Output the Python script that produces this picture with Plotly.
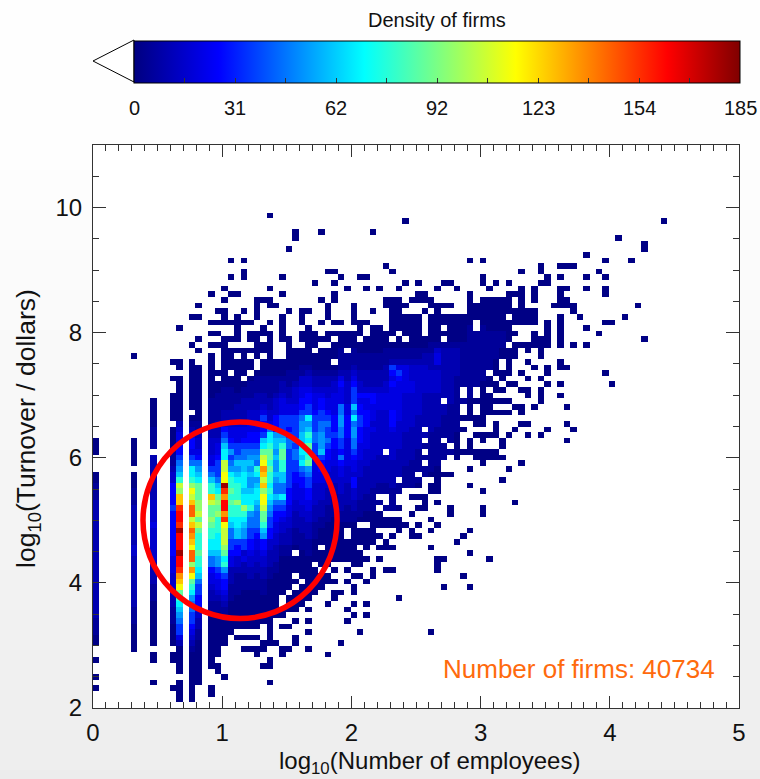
import numpy as np
import plotly.graph_objects as go

W, H = 760, 779
PL, PR, PT, PB = 93, 739, 145, 708

# colour bar and axis labels
cbar_ticks = [0, 31, 62, 92, 123, 154, 185]
x_ticks = [0, 1, 2, 3, 4, 5]
y_ticks = [2, 4, 6, 8, 10]
firms_label = "Number of firms: 40734"

# density level codes used in the arrays below
level_codes = "123456789ABCDEFGHIJKLM"
level_values = [1, 5, 10, 15, 20, 26, 35, 45, 52, 60, 68, 78, 88, 97, 106, 115, 127, 136, 145, 155, 163, 180]

# occupied cells per grid row (top row of the plot = 0): column numbers or column ranges
rows_12_29 = {
    12: "27", 13: "48 88", 15: "31 35 43", 16: "31 81", 17: "85", 18: "30 85", 19: "76",
    20: "21 23 58 60 79 83", 21: "45 69 72-74", 22: "23 36 37 46 66 69 78",
    23: "21 23 29 38 41 42 60 70 72 76 79", 24: "34 37 48 50 54 55 60 62 64 69 70",
    25: "20 27 39 42 44 47 53 56 61 66 68 72 73 76 79",
    26: "18 21 22 29 37 50 51 58 64-66 68 72 79",
    27: "20 25-27 35 37 45-47 49-52 58 60-64 66 68 72 73",
    28: "16 25 27 28 36 40 45-48 52-55 58-64 66 71-74 84",
    29: "19 20 23 25 30 32 33 36 40 43 46 47 51 53 58-68 74",
}
rows_30_48 = {
    30: "15 16 20 22 25 29 32 36 40 46-50 52-63 65-68 72 75 82",
    31: "18-24 27 29 32 35 37 38 40-42 46-50 52-58 60-64 65-68 70 72 79 80",
    32: "13 22 26 29 33 41 43 44 46-50 52 53 55-58 60-64 70 72 76",
    33: "18 19 22 24-27 29 32-34 36-41 43-46 48-50 52-65 68 70 72 78",
    34: "16 20-22 24 25 27 29 30 32-36 38-40 42-45 47 49-53 55-64 68-70 72 85",
    35: "15 18-20 25-27 30 33 34 37-63 65-70 72 74 76",
    36: "16 20-27 30-33 35-38 40-65 67 69",
    37: "18 20 21 23 25 27 30-65 69",
    38: "12 13 15 18 20-24 26-36 38-62 64 67 72",
    39: "13 15 16 18 20-24 26-62 64 68 70 72 73",
    40: "15 16 18-20 22 23 25-60 62-64 66 70 79",
    41: "12 13 15 16 18 20-22 24-61 63 67 69",
    42: "13 15 16 18-62 64 65 70 72 80",
    43: "13 15 16 18-56 58 60 62 63 66 67 69",
    44: "12 13 15 16 18-56 58 60 61 67 69 72",
    45: "12 13 15 16 18-53 55-64 69",
    46: "12 13 15 16 18-56 58 60 61 65 66 68 73",
    47: "12 13 16 18-56 58 60-64 66",
    48: "12 13 15 16 18-60",
}
rows_49_70 = {
    49: "18-56 59 60 62 66 67 73", 50: "18-50 52-57 62 65 70 74", 51: "18-56 59-62 64 67 69",
    52: "18-50 52 53 55 56 58 60 63 73", 53: "18-54 56 58 63", 54: "18-44 46-50 52-62",
    55: "18-54 56 59-63", 56: "18-50 52 53 60 66", 57: "18-53 58 64", 58: "18-49 51-55",
    59: "18-46 48-50 53 63", 60: "18-50 52 53 58", 61: "18-47 52 53 60", 62: "18-43 46 49-51",
    63: "18-44 46 51 53 65", 64: "18-43 45-47 50 51 55 60", 65: "18-44 49 55 60", 66: "18-47 52",
    67: "18-40 43-48 50 53", 68: "18-38 40-43 47 49 52 58", 69: "18-38 40-44 46 49 50 57",
    70: "18-43 45 56",
}
rows_71_98 = {
    71: "18-34 36-40 42 44-46 52", 72: "18-30 32-41 58", 73: "18-42 44 53 54 61",
    74: "18-33 35 36 40 41 53", 75: "18-34 37 39 43 45 46 53", 76: "18-30 32-36 40 41 43 57",
    77: "18-31 33-37 39 42", 78: "18-30 32-35 40 54 58", 79: "18-29 31-34 37 38 40",
    80: "18-28 30-33 37 47", 81: "18-28 30-32 36 40 42", 82: "18-31 33 39", 83: "18-29 40 42",
    84: "18-27 31 33 39", 85: "18-25 27 29 30", 86: "18-21 27 33 41 52", 87: "18-20 22-25 27 31",
    88: "18-20 26-28 31 38", 89: "6 13 15 16 18 19 23-26 29 30 33", 90: "9 12 13 15 16 18 19 25 29 36",
    91: "0 9 12 13 15 16 18 27", 92: "13 15 16 18 19 26 27", 93: "13 15 16 19", 94: "0 15 16 20",
    95: "9 13 15 16 27", 96: "0 12 13 15 18", 97: "13 15 18", 98: "13 15",
}
# occupied rows of the narrow columns at the left: column -> row ranges
narrow_columns = {
    0: "52-54 58-88", 6: "37 52-56 58-89", 9: "45-53 55-88", 12: "50-88",
    13: "49-88", 15: "49-88", 16: "49-88",
}

# levels down each column: column -> (first row, codes); cells not listed are level 1
levels_left = {
    0: (58, "1122233333333333333333333322211"),
    6: (52, "11111" + "1" + "1" + "1122233333334433333333322211"),
    9: (45, "111112222333" + "3333334444544444433332221"),
    12: (50, "1111222" + "344" + "666676666666" + "6555444333222111"),
    13: (49, "3455667" + "89AC" + "FEHH" + "KLLKMLLL" + "MLLK" + "IHGDCBA98775" + "3"),
    15: (49, "2356657" + "8BBCE" + "GFHJJF" + "HJIHGJJEIG" + "DCB98877" + "65432"),
    16: (49, "22344568" + "9ABDDDEEFDFDCCCDCCBA8" + "77665433221"),
}
levels_upper = {
    18: (38, "11111112222"), 19: (38, "11111122222"), 20: (38, "11111222233"), 21: (38, "11111222233"),
    22: (38, "11111122333"), 23: (38, "11111223333"), 24: (38, "11112223344"), 25: (38, "11122233344"),
    26: (38, "11122233457"), 27: (38, "11122223344"), 28: (38, "11122234446"), 29: (38, "11123345557"),
    30: (38, "11222334557"), 31: (38, "11223444557"), 32: (38, "12244556678"), 33: (38, "1234456677B"),
    34: (38, "11233455567"), 35: (38, "11233456677"), 36: (38, "11233445567"), 37: (38, "11234455556"),
}
levels_middle = {
    18: (49, "2334445578ACCHFDDEDCCBBA88655433" + "22"),
    19: (49, "3334556777" + "8ABDEDECCCBBBA99765543" + "22"),
    20: (49, "4678ABBFFGGMKILLIKGFFFEDBC976654322"),
    21: (49, "455679" + "789BCCDCDCCBA8877655333222"),
    22: (49, "4555778A9ABCCCECCBBAA76644" + "32222"),
    23: (49, "4556788AABBBABBECBA9977453" + "3222"),
    24: (49, "5566789A9A99ABBC988776654433" + "22"),
    25: (49, "5566789" + "8CB9ABBA988876554433222"),
    26: (49, "667AB" + "DFGIHFHEGGFDDCA9665443" + "3222"),
    27: (49, "58BBCDDCDCCBCBA98776644333" + "22"),
    28: (49, "669AA9A99A988A876655443332" + "2"),
    29: (49, "779ACDDCCAA88B876544" + "3322"),
    30: (49, "76788777777766655443332" + "2"),
    31: (49, "777878877665554433322" + "2"),
    32: (49, "99AABBAB87665554433322" + "2"),
    33: (49, "9ACBDBCD987766554433322" + "2"),
    34: (49, "778877655554444333" + "222"),
    35: (49, "88999A766554443332" + "2"),
    36: (49, "877876655444333222"),
    37: (49, "667665554443322" + "22"),
}
levels_right = {
    38: (34, "1122223" + "56555" + "8899" + "8877" + "6865" + "5444" + "33322"),
    39: (34, "111222334444556666555554443333222"),
    40: (34, "112223456777A8B899887655466443322"),
    41: (34, "111222334465667766655544433332221"),
    42: (34, "111222333465566655554443333322211"),
    43: (34, "111222333466555454444433333222211"),
    44: (34, "111222333455544444444333332222211"),
    45: (34, "112223334455544444443333332222211"),
    46: (34, "112237656555566654444433333222211"),
    47: (34, "112235765555555444443333332222111"),
    48: (34, "112235555544444443333332222211111"),
    49: (34, "112234445544444433333322222211111"),
    50: (34, "112234444444443333332222221111111"),
    51: (34, "112334444433333333322222211111111"),
    52: (34, "122333444433333332222222111111111"),
    53: (34, "124553444433333322222221111111111"),
    54: (34, "123333333333332222222211111111111"),
    55: (34, "123333333333222222222111111111111"),
    56: (34, "123333322222222221111111111111111"),
    57: (34, "122222222222211111111111111111111"),
    58: (30, "1122222222222221111"),
    59: (30, "1122222222222211111"),
    60: (30, "1122222222221111"),
    61: (30, "11122222222111"),
    62: (30, "1112222211111"),
    63: (30, "11122211111"),
}


def spec_items(spec):
    out = []
    for tok in spec.split():
        if "-" in tok:
            a, b = tok.split("-")
            out.extend(range(int(a), int(b) + 1))
        else:
            out.append(int(tok))
    return out


code_value = dict(zip(level_codes, level_values))
z = np.full((100, 100), np.nan)
for block in (rows_12_29, rows_30_48, rows_49_70, rows_71_98):
    for row, spec in block.items():
        for col in spec_items(spec):
            z[row, col] = 1
for col, spec in narrow_columns.items():
    for row in spec_items(spec):
        z[row, col] = 1
for block in (levels_left, levels_upper, levels_middle, levels_right):
    for col, (start, codes) in block.items():
        for k, ch in enumerate(codes):
            row = start + k
            if row < 100 and not np.isnan(z[row, col]):
                z[row, col] = code_value[ch]

colorscale = [
    [0.0, "#000080"], [0.14, "#0000ff"], [0.38, "#00ffff"], [0.63, "#ffff00"],
    [0.88, "#ff0000"], [1.0, "#800000"],
]

CB_L, CB_R, CB_T, CB_B = 134, 740, 40, 82


def paper_x(px):
    return (px - PL) / (PR - PL)


def paper_y(py):
    return (PB - py) / (PB - PT)


fig = go.Figure()
tick_positions = [i * 185 / 12 for i in range(13)]
fig.add_trace(go.Heatmap(
    z=z, x0=0.018, dx=0.05, y0=10.955, dy=-0.09,
    colorscale=colorscale, zmin=0, zmax=185, hoverongaps=False,
    colorbar=dict(
        orientation="h",
        x=paper_x(CB_L), xanchor="left", y=paper_y(CB_B + 6.5), yanchor="bottom",
        lenmode="pixels", len=CB_R - CB_L, thicknessmode="pixels", thickness=CB_B - CB_T,
        xpad=0, ypad=0, outlinewidth=1, outlinecolor="#000000",
        tickmode="array", tickvals=tick_positions, showticklabels=False,
        ticks="inside", ticklen=5, tickcolor="#333333", tickwidth=1,
    ),
))

shapes = []
# page background: white at the top fading to light grey
band_tops = list(range(130, H, 40))
for k, top in enumerate(band_tops):
    g = 254 - int(18 * k / (len(band_tops) - 1))
    shapes.append(dict(type="rect", xref="paper", yref="paper", layer="below", line_width=0,
                       x0=paper_x(0), x1=paper_x(W), y0=paper_y(top + 41), y1=paper_y(top),
                       fillcolor=f"rgb({g},{g},{g})"))
shapes.append(dict(type="rect", xref="paper", yref="paper", layer="below", line_width=0,
                   x0=0, x1=1, y0=0, y1=1, fillcolor="#ffffff"))
# red ring
shapes.append(dict(type="circle", xref="x", yref="y", x0=0.387, x1=1.889, y0=3.43, y1=6.57,
                   line=dict(color="#ff0000", width=5.5)))
# lower-end triangle of the colour bar
shapes.append(dict(type="path", xref="paper", yref="paper",
                   path=f"M {paper_x(CB_L)} {paper_y(CB_T)} L {paper_x(CB_L - 41)} {paper_y(61)} L {paper_x(CB_L)} {paper_y(CB_B)} Z",
                   fillcolor="#ffffff", line=dict(color="#000000", width=1)))
# longer colour-bar ticks at the labelled values
for i in range(1, 6):
    cx = CB_L + (CB_R - CB_L) * i / 6
    shapes.append(dict(type="line", xref="paper", yref="paper", x0=paper_x(cx), x1=paper_x(cx),
                       y0=paper_y(CB_B), y1=paper_y(CB_B - 10), line=dict(color="#333333", width=1)))

narrow = "Liberation Sans Narrow, Liberation Sans"
tick_font = dict(family="Liberation Sans", size=24, color="#111111")
cb_font = dict(family=narrow, size=20, color="#111111")
annotations = [
    dict(text="Density of firms", xref="paper", yref="paper", x=paper_x(437), y=paper_y(20),
         xanchor="center", yanchor="middle", showarrow=False,
         font=dict(family=narrow, size=20, color="#111111")),
    dict(text=firms_label, xref="x", yref="y", x=4.83, y=2.62, xanchor="right", yanchor="middle",
         showarrow=False, font=dict(family="Liberation Sans", size=26, color="#ff6a0d")),
    dict(text="log<sub>10</sub>(Number of employees)", xref="paper", yref="paper",
         x=paper_x(429), y=paper_y(762), xanchor="center", yanchor="middle", showarrow=False,
         font=dict(family="Liberation Sans", size=24, color="#111111")),
    dict(text="log<sub>10</sub>(Turnover / dollars)", xref="paper", yref="paper", textangle=-90,
         x=paper_x(28), y=paper_y(429), xanchor="center", yanchor="middle", showarrow=False,
         font=dict(family="Liberation Sans", size=26.5, color="#111111")),
]
for i, label in enumerate(cbar_ticks):
    annotations.append(dict(text=str(label), xref="paper", yref="paper",
                            x=paper_x(CB_L + (CB_R - CB_L) * i / 6), y=paper_y(108),
                            xanchor="center", yanchor="middle", showarrow=False, font=cb_font))

fig.update_layout(
    width=W, height=H, autosize=False,
    margin=dict(l=PL, r=W - PR, t=PT, b=H - PB, pad=0, autoexpand=False),
    paper_bgcolor="#fefefe", plot_bgcolor="#ffffff",
    shapes=shapes, font=tick_font, showlegend=False, annotations=annotations,
    xaxis=dict(range=[0, 5], tickvals=x_ticks, ticks="inside", ticklen=12, tickcolor="#333333",
               showgrid=False, zeroline=False, showline=True, linecolor="#333333", linewidth=1, mirror="ticks",
               minor=dict(dtick=0.1, tick0=0, ticks="inside", ticklen=6, tickcolor="#333333", showgrid=False),
               ticklabelstandoff=3, tickfont=tick_font),
    yaxis=dict(range=[2, 11], tickvals=y_ticks, ticks="inside", ticklen=13, tickcolor="#333333",
               showgrid=False, zeroline=False, showline=True, linecolor="#333333", linewidth=1, mirror="ticks",
               minor=dict(dtick=0.5, tick0=0, ticks="inside", ticklen=6, tickcolor="#333333", showgrid=False),
               ticklabelstandoff=5, tickfont=tick_font),
)

fig.write_html("out.html", config={"displayModeBar": False},
               post_script="document.body.style.margin='0';")
